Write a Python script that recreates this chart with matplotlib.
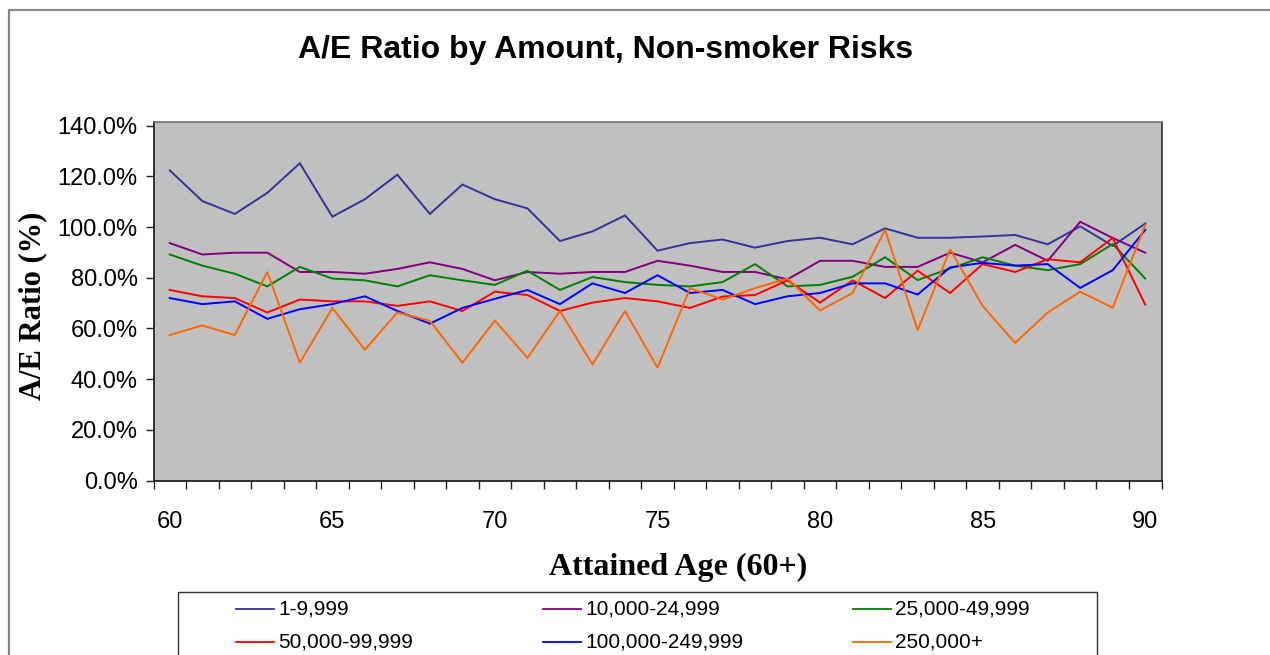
import matplotlib
matplotlib.use("Agg")
import matplotlib.pyplot as plt
from matplotlib.patches import Rectangle
from matplotlib.lines import Line2D
from matplotlib.ticker import FixedLocator, FuncFormatter

ages = list(range(60, 91))

series_names = ["1-9,999", "10,000-24,999", "25,000-49,999",
                "50,000-99,999", "100,000-249,999", "250,000+"]

s_1_9999 = [122.4, 110.3, 105.2, 113.5, 125.2, 104.1, 111.0, 120.7, 105.2, 116.8,
            111.0, 107.4, 94.5, 98.3, 104.6, 90.7, 93.7, 95.1, 91.9, 94.5,
            95.8, 93.2, 99.5, 95.8, 95.8, 96.3, 96.9, 93.2, 100.3, 92.6, 101.4]
s_10000_24999 = [93.7, 89.2, 89.9, 89.9, 82.3, 82.3, 81.6, 83.5, 86.1, 83.5,
                 79.0, 82.3, 81.6, 82.3, 82.3, 86.7, 84.8, 82.3, 82.3, 79.4,
                 86.7, 86.7, 84.3, 84.3, 89.9, 86.1, 93.0, 86.7, 102.1, 95.7, 89.9]
s_25000_49999 = [89.2, 84.8, 81.6, 76.6, 84.3, 79.7, 79.0, 76.6, 81.0, 79.0,
                 77.2, 82.8, 75.2, 80.3, 78.3, 77.2, 76.6, 78.3, 85.4, 76.6,
                 77.2, 80.4, 88.1, 79.1, 83.7, 88.1, 84.8, 83.0, 85.4, 93.3, 79.7]
s_50000_99999 = [75.2, 72.7, 72.0, 66.3, 71.4, 70.7, 70.7, 68.9, 70.7, 66.9,
                 74.5, 73.2, 66.9, 70.2, 72.0, 70.7, 68.1, 72.6, 73.2, 79.0,
                 70.2, 79.0, 72.0, 82.8, 74.0, 85.4, 82.3, 87.3, 86.1, 95.7, 69.4]
s_100000_249999 = [72.0, 69.6, 70.7, 63.8, 67.6, 69.6, 72.7, 66.9, 61.9, 68.1,
                   71.7, 75.2, 69.6, 77.8, 74.0, 81.0, 74.0, 75.2, 69.6, 72.7,
                   74.0, 77.8, 77.8, 73.4, 84.1, 85.9, 84.8, 85.4, 76.0, 83.0, 98.9]
s_250000_plus = [57.4, 61.2, 57.4, 82.3, 46.5, 68.1, 51.6, 66.3, 63.0, 46.5,
                 63.1, 48.4, 66.9, 45.8, 66.9, 44.5, 75.9, 71.4, 75.9, 79.7,
                 67.1, 74.0, 98.9, 59.3, 91.2, 68.9, 54.3, 66.3, 74.5, 68.2, 100.8]

all_series = [s_1_9999, s_10000_24999, s_25000_49999,
              s_50000_99999, s_100000_249999, s_250000_plus]
colors = ["#333399", "#800080", "#008000", "#FF0000", "#0000FF", "#FF6600"]

x_labels = [60, 65, 70, 75, 80, 85, 90]
y_ticks = [0, 20, 40, 60, 80, 100, 120, 140]

W, H = 1270, 655
fig = plt.figure(figsize=(W / 100, H / 100), dpi=100)
plt.rcParams['font.family'] = ['Liberation Sans', 'DejaVu Sans']


def fx(x):
    return x / W


def fy(y):
    return 1 - y / H


L, R, T, B = 153.5, 1161.5, 121.7, 480.5
ax = fig.add_axes([fx(L), fy(B), fx(R) - fx(L), fy(T) - fy(B)])
ax.set_facecolor("#C0C0C0")

for vals, c, name in zip(all_series, colors, series_names):
    ax.plot(ages, vals, color=c, lw=1.4, label=name, solid_joinstyle='miter')

ax.set_xlim(59.5, 90.5)
ax.set_ylim(0, 141.6)

ax.yaxis.set_major_locator(FixedLocator(y_ticks))
ax.yaxis.set_major_formatter(FuncFormatter(lambda v, p: f"{v:.1f}%"))
ax.xaxis.set_major_locator(FixedLocator(x_labels))
ax.xaxis.set_minor_locator(FixedLocator([a - 0.5 for a in ages] + [ages[-1] + 0.5]))
ax.tick_params(axis='x', which='major', length=0, pad=22, labelsize=17)
ax.tick_params(axis='x', which='minor', length=5.5, width=1.0, direction='out', color='#222222')
ax.tick_params(axis='y', which='major', length=5.5, width=1.0, direction='out', pad=6, labelsize=17,
               color='#222222')

for side in ['left', 'bottom']:
    ax.spines[side].set_color('#222222')
    ax.spines[side].set_linewidth(1.3)
ax.spines['top'].set_color('#707070')
ax.spines['top'].set_linewidth(1.2)
ax.spines['right'].set_color('#303030')
ax.spines['right'].set_linewidth(1.2)

# Title and axis labels
fig.text(fx(606), fy(50), "A/E Ratio by Amount, Non-smoker Risks", ha='center', va='center',
         fontsize=23, fontweight='bold')
fig.text(fx(678), fy(567), "Attained Age (60+)", ha='center', va='center',
         fontsize=23, fontweight='bold', family=['Liberation Serif', 'DejaVu Serif'])
fig.text(fx(33), fy(306), "A/E Ratio (%)", ha='center', va='center', rotation=90,
         fontsize=22, fontweight='bold', family=['Liberation Serif', 'DejaVu Serif'])

# Chart border
fig.add_artist(Rectangle((fx(8.5), -0.2), 1.5, fy(9.5) + 0.2, transform=fig.transFigure,
                         fill=False, edgecolor='#888888', linewidth=1.6, clip_on=False))

# Legend box
fig.add_artist(Rectangle((fx(178), -0.2), fx(1097) - fx(178), fy(592) + 0.2,
                         transform=fig.transFigure, facecolor='white',
                         edgecolor='#333333', linewidth=1.0, clip_on=False))
col_x = [236, 543, 853]
row_y = [609, 642]
for i, (name, c) in enumerate(zip(series_names, colors)):
    col = i % 3
    row = i // 3
    x0 = col_x[col]
    y0 = row_y[row]
    fig.add_artist(Line2D([fx(x0), fx(x0 + 38)], [fy(y0), fy(y0)], transform=fig.transFigure,
                          color=c, lw=1.3))
    fig.text(fx(x0 + 42), fy(y0), name, ha='left', va='center', fontsize=15)

fig.savefig("out.png", dpi=100)
